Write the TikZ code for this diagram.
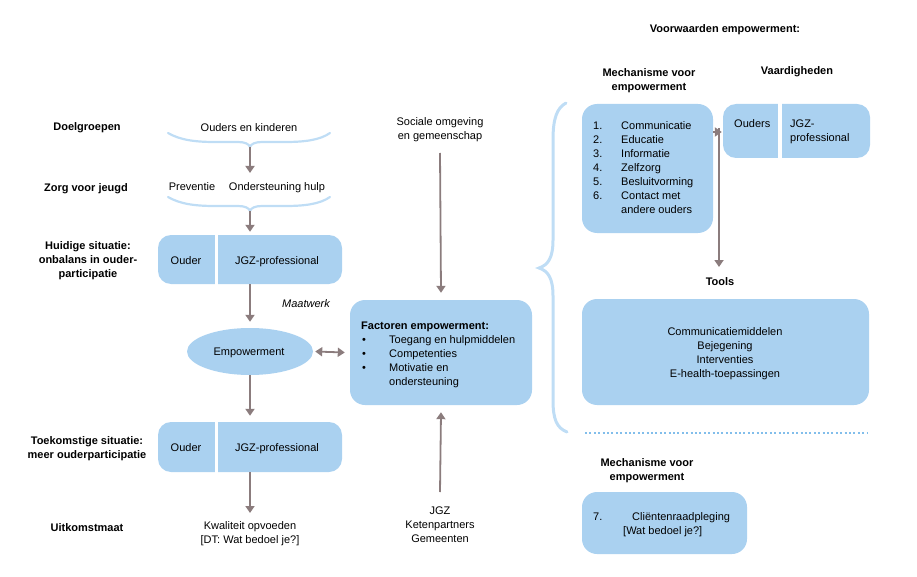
\documentclass[tikz,border=0pt]{standalone}
\usepackage{fontspec}
\setmainfont{Liberation Sans}
\usetikzlibrary{arrows.meta,shapes.geometric}
\definecolor{boxblue}{RGB}{170,209,240}
\definecolor{braceblue}{RGB}{191,221,245}
\definecolor{dotblue}{RGB}{130,190,235}
\definecolor{arrgray}{RGB}{139,124,125}
\begin{document}
\begin{tikzpicture}[x=1pt,y=-1pt,
  font=\fontsize{11}{14}\selectfont,
  arr/.style={draw=arrgray, line width=1.8pt, -{Triangle[width=9pt,length=7pt]}},
  darr/.style={draw=arrgray, line width=1.8pt, {Triangle[width=9pt,length=7pt]}-{Triangle[width=9pt,length=7pt]}},
  txt/.style={inner sep=0pt, align=center, anchor=base},
  lbl/.style={txt, font=\fontsize{11}{14}\selectfont\bfseries},
  bx/.style={fill=boxblue, rounded corners=13pt, inner sep=0pt},
  brc/.style={draw=braceblue, line width=2.2pt, line cap=round},
  gap/.style={fill=white},
  dots/.style={draw=dotblue, line width=2pt, dash pattern=on 2pt off 2.4pt}
]
\useasboundingbox (0,0) rectangle (917,577);

% ---------- left labels (multi-line: base = last line) ----------
\node[lbl] (l1) at (87,131) {Doelgroepen};
\node[lbl] (l2) at (86,192) {Zorg voor jeugd};
\node[lbl] (l3) at (88,277) {Huidige situatie:\\onbalans in ouder-\\participatie};
\node[lbl] (l4) at (87,458) {Toekomstige situatie:\\meer ouderparticipatie};
\node[lbl] (l5) at (87,531) {Uitkomstmaat};

% ---------- centre column ----------
\node[txt] (ok) at (249,132) {Ouders en kinderen};
\draw[brc] (168,133) .. controls (180,140) and (195,142) .. (215,142) -- (238,142)
  .. controls (245,142) and (249,144) .. (250,147)
  .. controls (251,144) and (255,142) .. (262,142) -- (285,142)
  .. controls (305,142) and (320,140) .. (330,133);
\coordinate (b1) at (250,147);
\coordinate (b1e) at (250,173);
\draw[arr] (b1) -- (b1e);

\node[txt] (prev) at (192,191) {Preventie};
\node[txt] (ondh) at (277,191) {Ondersteuning hulp};
\draw[brc] (168,197) .. controls (180,204) and (195,206) .. (215,206) -- (238,206)
  .. controls (245,206) and (249,208) .. (250,211)
  .. controls (251,208) and (255,206) .. (262,206) -- (285,206)
  .. controls (305,206) and (320,204) .. (330,197);
\coordinate (b2) at (250,211);

\node[bx, minimum width=184, minimum height=49] (cur) at (250,259.5) {};
\fill[gap] (215,233) rectangle (218,286);
\node[txt] (curo) at (186,264) {Ouder};
\node[txt] (curj) at (277,264) {JGZ-professional};
\draw[arr] (b2) -- ([yshift=3pt]cur.north);

\node[txt, font=\fontsize{11}{14}\selectfont\itshape] (maat) at (306,307) {Maatwerk};

\node[ellipse, fill=boxblue, minimum width=126, minimum height=47, inner sep=0pt] (emp) at (250,351.5) {};
\node[txt] (empt) at (249,355) {Empowerment};
\draw[arr] (cur.south) -- ([yshift=6pt]emp.north);

\node[bx, minimum width=184, minimum height=50] (fut) at (250,447) {};
\fill[gap] (215,420) rectangle (218,474);
\node[txt] (futo) at (186,451) {Ouder};
\node[txt] (futj) at (277,451) {JGZ-professional};
\draw[arr] (emp.south) -- ([yshift=6pt]fut.north);

\coordinate (oc) at (250,513);
\draw[arr] (fut.south) -- (oc);
\node[txt] (kw) at (250,543) {Kwaliteit opvoeden\\{[DT: Wat bedoel je?]}};

% ---------- middle column ----------
\node[txt] (soc) at (440,140) {Sociale omgeving\\en gemeenschap};
\node[bx, rounded corners=15pt, minimum width=182, minimum height=105] (fac) at (441,352.5) {};
\node[txt, anchor=base west, font=\fontsize{11}{14}\selectfont\bfseries] (fach) at (361,329) {Factoren empowerment:};
\node[txt, anchor=base west, align=left] (facl) at (362,343)
  {\begin{tabular}[t]{@{}p{27pt}@{}l@{}}
   \textbullet & Toegang en hulpmiddelen\\
   \textbullet & Competenties\\
   \textbullet & Motivatie en\\
               & ondersteuning
   \end{tabular}};
\coordinate (so) at (440,153);
\draw[arr] (so) -- ([yshift=7pt]fac.north);
\coordinate (jg) at (440,492);
\draw[arr] (jg) -- ([yshift=-7pt]fac.south);
\node[txt] (jgz) at (440,542) {JGZ\\Ketenpartners\\Gemeenten};
\draw[darr] ([xshift=2pt]emp.east) -- ([xshift=-5pt]fac.west);

% ---------- big brace ----------
\draw[brc, line width=3pt] (566,103) .. controls (557,108) and (553,118) .. (553,140) -- (553,240)
  .. controls (553,258) and (548,265) .. (539,268)
  .. controls (548,271) and (553,278) .. (553,296) -- (553,400)
  .. controls (553,420) and (557,428) .. (567,432);

% ---------- right side ----------
\node[lbl] (voor) at (725,33) {Voorwaarden empowerment:};
\node[lbl] (mh1) at (649,91) {Mechanisme voor\\empowerment};
\node[lbl] (vh) at (797,75) {Vaardigheden};

\node[bx, rounded corners=15pt, minimum width=131, minimum height=129] (mech) at (647.5,168.5) {};
\node[txt, anchor=base west, align=left] (mecht) at (593,130)
  {\begin{tabular}[t]{@{}p{28pt}@{}l@{}}
   1. & Communicatie\\
   2. & Educatie\\
   3. & Informatie\\
   4. & Zelfzorg\\
   5. & Besluitvorming\\
   6. & Contact met\\
      & andere ouders
   \end{tabular}};

\node[bx, minimum width=147, minimum height=54] (vd) at (796.5,131) {};
\fill[gap] (778,102) rectangle (782,160);
\node[txt, anchor=base west] (vdo) at (734,128) {Ouders};
\node[txt, anchor=base west, align=left] (vdj) at (790,142) {JGZ-\\professional};

\coordinate (mj) at (713,132);
\draw[arr] (mj) -- ([xshift=-1pt]mj -| vd.west);
\coordinate (vt) at (719,128);
\coordinate (vb) at (719,267);
\draw[arr] (vt) -- (vb);

\node[lbl] (tl) at (720,285) {Tools};
\node[bx, rounded corners=15pt, minimum width=287, minimum height=106] (tools) at (725.5,352) {};
\node[txt] (toolt) at (725,377) {Communicatiemiddelen\\Bejegening\\Interventies\\E-health-toepassingen};

\coordinate (d1) at (585,433);
\coordinate (d2) at (868,433);
\draw[dots] (d1) -- (d2);

\node[lbl] (mh2) at (647,480) {Mechanisme voor\\empowerment};
\node[bx, rounded corners=15pt, minimum width=165, minimum height=62] (cl) at (664.5,523) {};
\node[txt, anchor=base west] (cl7) at (593,520) {7.};
\node[txt, anchor=base west] (clt) at (632,520) {Cliëntenraadpleging};
\node[txt, anchor=base west] (clw) at (623,534) {[Wat bedoel je?]};
\end{tikzpicture}
\end{document}
